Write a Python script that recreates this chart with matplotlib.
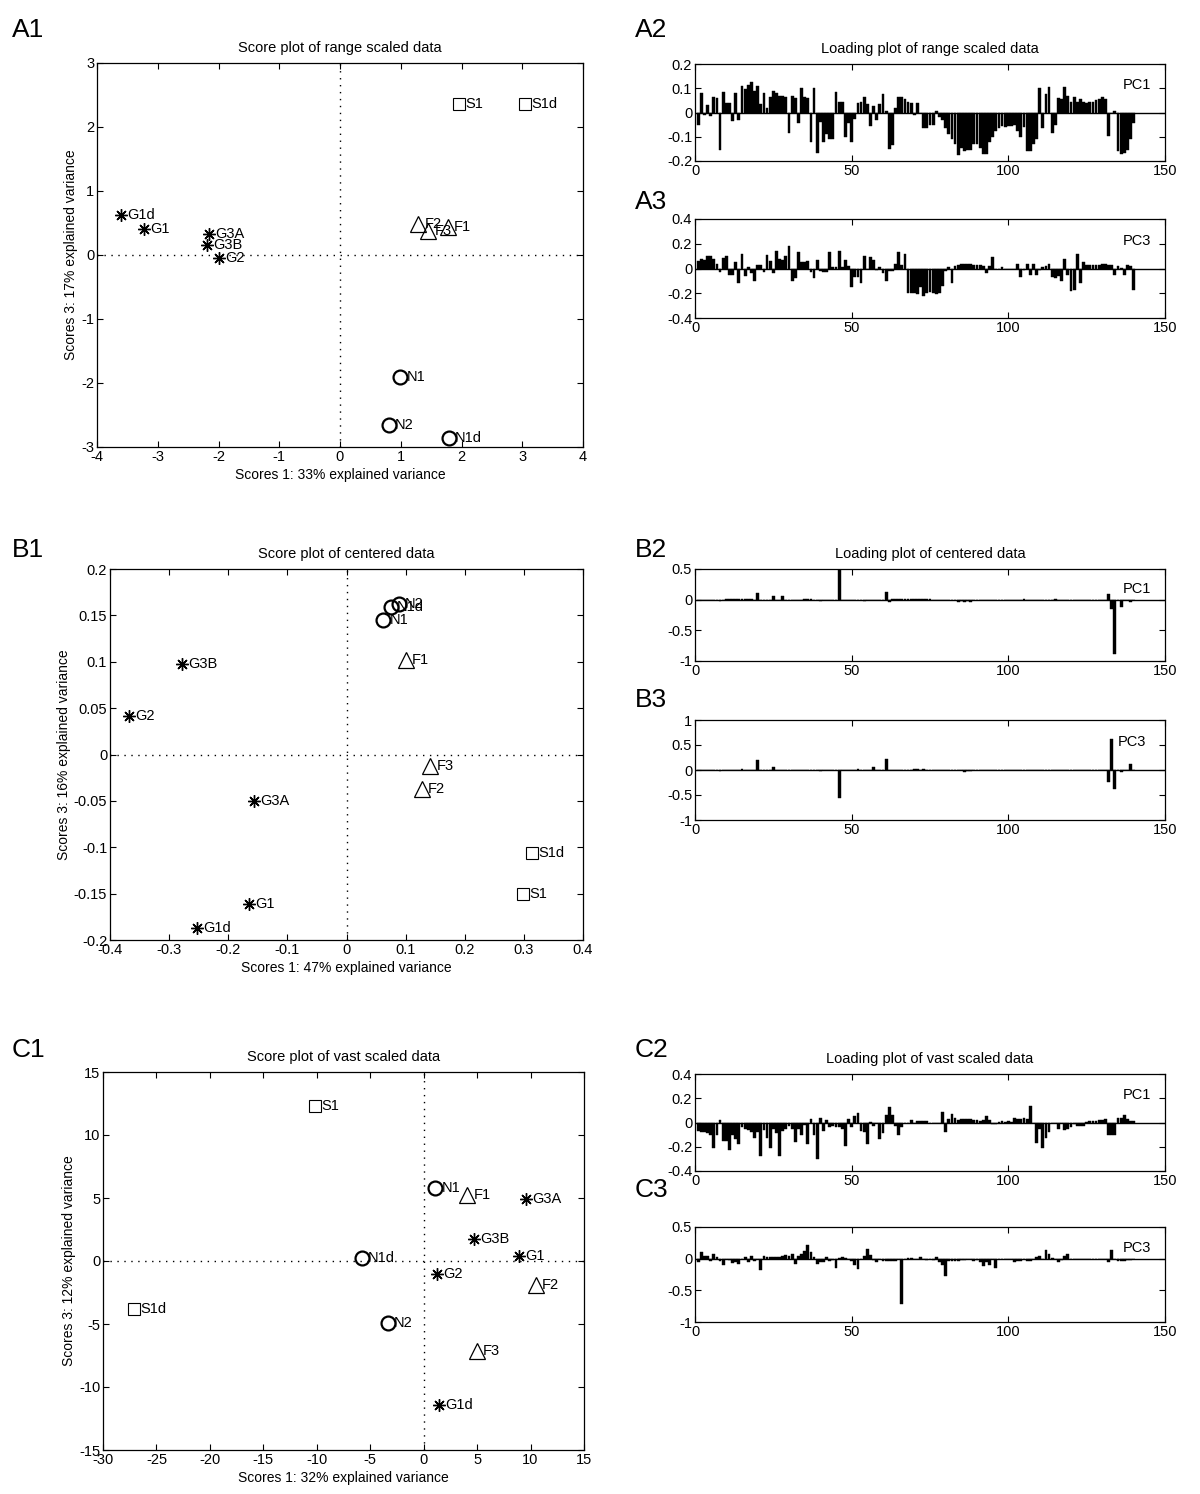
import numpy as np
import matplotlib
matplotlib.use('Agg')
import matplotlib.pyplot as plt

plt.rcParams['font.family'] = ['Liberation Sans', 'DejaVu Sans']
plt.rcParams['axes.unicode_minus'] = False

# ---- score data ----
a1_names = ['G1d', 'G1', 'G3A', 'G3B', 'G2', 'F2', 'F3', 'F1', 'S1', 'S1d', 'N1', 'N2', 'N1d']
a1_x = [-3.60, -3.22, -2.15, -2.19, -1.99, 1.29, 1.45, 1.77, 1.96, 3.04, 0.99, 0.80, 1.79]
a1_y = [0.62, 0.40, 0.33, 0.16, -0.05, 0.49, 0.38, 0.43, 2.36, 2.36, -1.90, -2.65, -2.86]

b1_names = ['N1', 'N1d', 'N2', 'F1', 'G3B', 'G2', 'F3', 'F2', 'G3A', 'S1d', 'S1', 'G1', 'G1d']
b1_x = [0.062, 0.075, 0.088, 0.100, -0.279, -0.368, 0.142, 0.127, -0.156, 0.314, 0.299, -0.165, -0.253]
b1_y = [0.1455, 0.159, 0.162, 0.102, 0.098, 0.041, -0.012, -0.037, -0.050, -0.106, -0.150, -0.161, -0.187]

c1_names = ['S1', 'N1', 'F1', 'G3A', 'G3B', 'G1', 'N1d', 'G2', 'F2', 'S1d', 'N2', 'F3', 'G1d']
c1_x = [-10.2, 1.08, 4.1, 9.6, 4.7, 8.9, -5.8, 1.25, 10.5, -27.1, -3.37, 4.95, 1.47]
c1_y = [12.3, 5.82, 5.2, 4.9, 1.76, 0.42, 0.26, -1.06, -1.93, -3.77, -4.9, -7.12, -11.4]

# ---- loading data (variables 1..140) ----
a2_pc1 = [-0.05, 0.08, -0.01, 0.03, -0.015, 0.065, 0.06, -0.155, 0.085, 0.04,
          0.04, -0.035, 0.08, -0.03, 0.11, 0.095, 0.115, 0.125, 0.09, 0.11,
          0.035, 0.08, 0.02, 0.065, 0.09, 0.08, 0.07, 0.07, 0.065, -0.085,
          0.07, 0.06, -0.045, 0.1, 0.065, 0.06, -0.12, 0.1, -0.165, -0.04,
          -0.12, -0.09, -0.11, -0.11, 0.085, 0.045, 0.045, -0.1, -0.045, -0.12,
          -0.025, 0.04, 0.045, 0.065, 0.035, -0.055, 0.025, -0.03, 0.035, 0.075,
          0.005, -0.15, -0.135, 0.02, 0.065, 0.065, 0.055, 0.045, 0.04, -0.01,
          0.04, 0.0, -0.065, -0.065, -0.05, -0.05, 0.005, -0.02, -0.03, -0.065,
          -0.09, -0.11, -0.13, -0.175, -0.145, -0.16, -0.155, -0.155, -0.13, -0.13,
          -0.145, -0.17, -0.17, -0.12, -0.1, -0.075, -0.065, -0.055, -0.06, -0.055,
          -0.055, -0.05, -0.075, -0.1, -0.06, -0.16, -0.16, -0.13, -0.11, 0.1,
          -0.065, 0.075, 0.105, -0.085, -0.05, 0.06, 0.055, 0.105, 0.07, 0.045,
          0.065, 0.045, 0.055, 0.045, 0.04, 0.045, 0.045, 0.05, 0.055, 0.065,
          0.055, -0.095, 0.0, 0.005, -0.16, -0.17, -0.165, -0.155, -0.11, -0.045]

a3_pc3 = [0.06, 0.075, 0.07, 0.1, 0.1, 0.08, 0.04, -0.03, 0.085, 0.1,
          -0.05, -0.05, 0.05, -0.12, 0.12, -0.06, 0.01, -0.04, -0.1, 0.025,
          0.03, -0.03, 0.11, 0.06, -0.04, 0.14, 0.08, 0.07, 0.1, 0.18,
          -0.1, -0.08, 0.13, 0.05, 0.05, 0.06, -0.03, -0.08, 0.065, -0.02,
          -0.03, -0.025, 0.13, 0.01, 0.015, 0.14, 0.01, 0.07, 0.02, -0.15,
          -0.07, -0.07, -0.12, 0.1, 0.0, 0.09, 0.065, -0.01, 0.01, -0.04,
          -0.1, -0.02, -0.02, 0.04, 0.13, 0.03, 0.12, -0.2, -0.2, -0.2,
          -0.21, -0.15, -0.22, -0.2, -0.19, -0.2, -0.21, -0.2, -0.14, -0.02,
          0.01, -0.12, 0.02, 0.03, 0.04, 0.04, 0.04, 0.035, 0.03, 0.03,
          0.025, 0.02, -0.04, 0.02, 0.09, 0.0, 0.0, 0.01, 0.0, 0.0,
          0.0, -0.005, 0.035, -0.065, -0.01, 0.035, -0.055, 0.035, -0.05, -0.015,
          0.01, 0.02, 0.035, -0.07, -0.08, -0.06, -0.1, 0.08, -0.05, -0.18,
          -0.17, 0.12, -0.12, 0.055, 0.03, 0.025, 0.025, 0.03, 0.03, 0.035,
          0.04, 0.03, 0.025, -0.05, 0.02, 0.005, -0.05, 0.03, 0.02, -0.17]

b2_pc1 = [0, 0, 0, 0, 0, 0, 0, -0.015, 0, 0.005,
          0.005, 0.005, 0.005, 0.005, 0.005, 0.005, 0.005, 0.01, 0.0, 0.11,
          0, 0, 0, 0, 0.06, 0, 0, 0.055, 0, 0,
          0, 0, 0, 0, 0.01, 0.01, 0.01, 0, 0, -0.02,
          -0.005, -0.005, -0.005, -0.005, 0, 0.48, -0.01, -0.01, -0.01, 0,
          0, 0, 0, -0.02, 0, 0, 0, 0, 0, 0,
          0.13, -0.03, 0.005, 0.005, 0.005, 0.005, 0.005, 0.005, 0.005, 0.005,
          0.005, 0.005, 0.005, 0.005, 0.005, 0, 0, 0, 0, 0,
          0, 0, 0, -0.03, -0.02, -0.03, -0.02, -0.03, 0, 0,
          0, 0, 0, 0, 0, 0, 0, 0, 0, 0,
          0, 0, 0, 0, 0.005, 0, 0, 0, 0, 0,
          0, 0, 0, 0, 0.005, 0, 0, 0, 0, 0,
          0, 0, 0, 0, 0, 0, 0, 0, 0, 0,
          0, 0.1, -0.15, -0.88, 0, -0.12, 0, 0, -0.04, 0]

b3_pc3 = [0, 0, 0, 0, 0, 0, 0, -0.02, 0, 0.01,
          0.01, 0.01, 0.01, 0.01, 0.015, 0.01, 0.01, 0.01, 0, 0.21,
          0, 0, 0, 0, 0.06, 0, 0.01, 0.01, 0.01, 0.01,
          0, 0, 0, 0, 0, 0, 0, 0, 0, -0.01,
          0, 0, 0, 0, 0, -0.56, 0, 0, 0, 0,
          0, 0.02, 0, 0, 0, 0, 0.06, 0, 0, 0,
          0.23, 0, 0, 0, 0, 0, 0, 0, 0.01, 0.02,
          0.02, 0.01, 0.02, 0.01, 0, 0, 0, 0, 0, 0,
          0, 0, 0, 0, 0, -0.03, -0.02, -0.02, 0, 0,
          0, 0, 0, 0, 0, 0, 0, 0, 0, 0,
          0, 0, 0, 0, 0, 0, 0, 0, 0, 0,
          0, 0, 0, 0, 0, 0, 0, 0, 0, 0,
          0, 0, 0, 0, 0, 0, 0, 0, 0, 0,
          0, -0.23, 0.63, -0.37, 0, -0.04, 0.01, 0, 0.13, 0]

c2_pc1 = [-0.07, -0.08, -0.08, -0.09, -0.1, -0.21, -0.1, 0.02, -0.15, -0.15,
          -0.23, -0.1, -0.14, -0.18, -0.04, -0.05, -0.06, -0.08, -0.13, -0.08,
          -0.28, -0.06, -0.13, -0.21, -0.05, -0.09, -0.28, -0.07, -0.05, -0.03,
          -0.05, -0.16, -0.05, -0.1, -0.02, -0.18, 0.03, -0.1, -0.3, 0.04,
          -0.07, 0.02, -0.04, -0.03, -0.04, -0.04, -0.05, -0.19, 0.025, -0.04,
          0.05, 0.08, -0.07, -0.08, -0.18, 0.005, -0.03, 0.0, -0.14, -0.09,
          0.06, 0.13, 0.06, -0.03, -0.1, -0.04, 0.0, 0.0, 0.02, 0.0,
          0.01, 0.015, 0.01, 0.01, 0.0, 0.0, 0.0, 0.0, 0.09, -0.08,
          0.03, 0.07, 0.04, 0.02, 0.03, 0.03, 0.025, 0.03, 0.02, 0.02,
          0.01, 0.02, 0.05, 0.02, -0.01, -0.015, 0.005, 0.01, 0.005, 0.01,
          0.005, 0.04, 0.03, 0.03, 0.035, 0.03, 0.14, 0.0, -0.17, -0.05,
          -0.21, -0.13, -0.08, 0.0, 0.0, -0.05, -0.005, -0.06, -0.05, -0.04,
          -0.015, -0.03, -0.03, -0.025, 0.005, 0.01, 0.015, 0.015, 0.02, 0.02,
          0.025, -0.1, -0.1, -0.1, 0.04, 0.035, 0.06, 0.03, 0.01, 0.01]

c3_pc3 = [-0.05, 0.1, 0.05, 0.04, -0.03, 0.08, 0.02, -0.03, -0.1, 0.0,
          -0.02, -0.07, -0.05, -0.08, 0.0, 0.02, -0.05, 0.04, -0.03, 0.0,
          -0.18, 0.04, 0.03, 0.02, 0.02, 0.02, 0.03, 0.05, 0.06, 0.04,
          0.07, -0.09, 0.05, 0.08, 0.12, 0.22, 0.1, 0.02, -0.09, -0.05,
          -0.05, 0.02, -0.03, -0.02, -0.15, 0.01, 0.02, 0.01, 0.0, -0.03,
          -0.1, -0.17, 0.0, 0.05, 0.15, 0.06, -0.02, -0.05, 0.0, -0.04,
          -0.04, -0.04, -0.04, -0.04, 0.0, -0.72, 0.0, 0.01, 0.01, -0.01,
          0.0, 0.02, 0.0, -0.02, 0.0, -0.02, 0.02, -0.05, -0.1, -0.28,
          -0.03, -0.04, -0.03, -0.03, -0.02, -0.02, 0.0, 0.0, -0.03, -0.02,
          -0.05, -0.12, -0.05, -0.1, 0.0, -0.15, 0.0, 0.0, 0.0, 0.0,
          0.0, -0.05, -0.03, -0.03, -0.01, -0.03, -0.03, -0.01, 0.02, 0.04,
          0.0, 0.14, 0.07, 0.01, 0.0, -0.06, -0.02, 0.05, 0.07, -0.01,
          0.0, -0.01, -0.01, 0.0, 0.0, -0.01, -0.01, 0.0, -0.01, 0.0,
          -0.01, -0.06, 0.14, 0.0, -0.03, -0.03, -0.03, -0.02, -0.02, -0.01]

W, H = 1200, 1494
fig = plt.figure(figsize=(W / 100, H / 100), dpi=100)


def axes_px(l, t, r, b):
    return fig.add_axes([l / W, 1 - b / H, (r - l) / W, (b - t) / H])


def fmt(v):
    return '%g' % v


def style(ax, xticks, yticks):
    ax.set_xticks(xticks)
    ax.set_yticks(yticks)
    ax.set_xticklabels([fmt(v) for v in xticks])
    ax.set_yticklabels([fmt(v) for v in yticks])
    ax.tick_params(direction='in', top=True, right=True, length=4, width=0.8,
                   labelsize=10.5, pad=2)
    for s in ax.spines.values():
        s.set_linewidth(0.9)


markers = {'G': ((8, 2, 0), 9, 1.0), 'F': ('^', 11, 0.9), 'N': ('o', 10, 1.6), 'S': ('s', 8, 0.8)}


def score_plot(ax, names, xs, ys, xlim, ylim, xticks, yticks, title, xlab, ylab):
    ax.axhline(0, color='k', ls=(0, (1, 4)), lw=1)
    ax.axvline(0, color='k', ls=(0, (1, 4)), lw=1)
    for n, x, y in zip(names, xs, ys):
        m, ms, mew = markers[n[0]]
        ax.plot(x, y, ls='none', marker=m, ms=ms, mfc='none', mec='k', mew=mew)
        ax.annotate(n, (x, y), xytext=(4.5, 0), textcoords='offset points',
                    va='center', ha='left', fontsize=10.5)
    ax.set_xlim(xlim)
    ax.set_ylim(ylim)
    style(ax, xticks, yticks)
    ax.set_title(title, fontsize=10.5, pad=8)
    ax.set_xlabel(xlab, fontsize=10, labelpad=3)
    ax.set_ylabel(ylab, fontsize=10, labelpad=2)


def loading_plot(ax, vals, ylim, yticks, pc, title=None, pcx=0.91):
    idx = np.arange(1, len(vals) + 1)
    ax.bar(idx, vals, width=0.9, color='k', edgecolor='k', lw=0.3)
    ax.axhline(0, color='k', lw=1)
    ax.set_xlim(0, 150)
    ax.set_ylim(ylim)
    style(ax, [0, 50, 100, 150], yticks)
    ax.text(pcx, 0.78, pc, transform=ax.transAxes, fontsize=10.5, va='center')
    if title:
        ax.set_title(title, fontsize=10.5, pad=8)


# A row
ax = axes_px(97, 63, 583, 447)
score_plot(ax, a1_names, a1_x, a1_y, (-4, 4), (-3, 3), range(-4, 5), range(-3, 4),
           'Score plot of range scaled data', 'Scores 1: 33% explained variance',
           'Scores 3: 17% explained variance')
ax = axes_px(695, 64, 1165, 161)
loading_plot(ax, a2_pc1, (-0.2, 0.2), [-0.2, -0.1, 0, 0.1, 0.2], 'PC1',
             'Loading plot of range scaled data')
ax = axes_px(695, 219, 1165, 318)
loading_plot(ax, a3_pc3, (-0.4, 0.4), [-0.4, -0.2, 0, 0.2, 0.4], 'PC3')

# B row
ax = axes_px(110, 569, 583, 940)
score_plot(ax, b1_names, b1_x, b1_y, (-0.4, 0.4), (-0.2, 0.2),
           [-0.4, -0.3, -0.2, -0.1, 0, 0.1, 0.2, 0.3, 0.4],
           [-0.2, -0.15, -0.1, -0.05, 0, 0.05, 0.1, 0.15, 0.2],
           'Score plot of centered data', 'Scores 1: 47% explained variance',
           'Scores 3: 16% explained variance')
ax = axes_px(695, 569, 1165, 661)
loading_plot(ax, b2_pc1, (-1, 0.5), [-1, -0.5, 0, 0.5], 'PC1',
             'Loading plot of centered data')
ax = axes_px(695, 720, 1165, 820)
loading_plot(ax, b3_pc3, (-1, 1), [-1, -0.5, 0, 0.5, 1], 'PC3', pcx=0.90)

# C row
ax = axes_px(103, 1072, 584, 1450)
score_plot(ax, c1_names, c1_x, c1_y, (-30, 15), (-15, 15), range(-30, 16, 5),
           range(-15, 16, 5), 'Score plot of vast scaled data',
           'Scores 1: 32% explained variance', 'Scores 3: 12% explained variance')
ax = axes_px(695, 1074, 1165, 1171)
loading_plot(ax, c2_pc1, (-0.4, 0.4), [-0.4, -0.2, 0, 0.2, 0.4], 'PC1',
             'Loading plot of vast scaled data')
ax = axes_px(695, 1227, 1165, 1322)
loading_plot(ax, c3_pc3, (-1, 0.5), [-1, -0.5, 0, 0.5], 'PC3')

# panel letters
for lab, x, y in [('A1', 12, 30), ('A2', 635, 30), ('A3', 635, 202),
                  ('B1', 12, 550), ('B2', 635, 550), ('B3', 635, 700),
                  ('C1', 12, 1050), ('C2', 635, 1050), ('C3', 635, 1190)]:
    fig.text(x / W, 1 - y / H, lab, fontsize=19, va='center', ha='left')

fig.savefig('out.png', dpi=100)
